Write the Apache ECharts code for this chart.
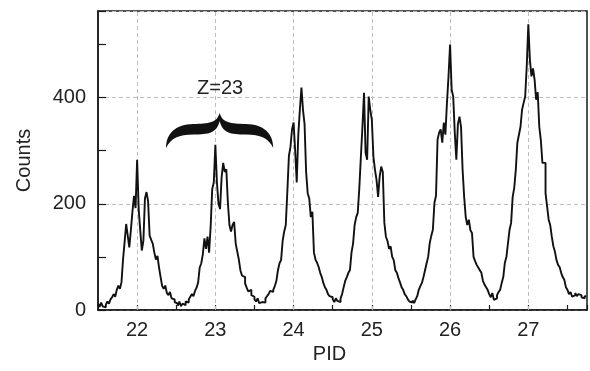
<!DOCTYPE html>
<html><head><meta charset="utf-8">
<script src="https://cdn.jsdelivr.net/npm/echarts@6/dist/echarts.min.js"></script>
<style>html,body{margin:0;padding:0;background:#fff}#c{width:590px;height:371px}</style>
</head><body><div id="c"></div>
<script>
// Histogram: bin edges start at binStart, each bin binWidth wide (PID units)
const binStart = 21.5;
const binWidth = 0.02;
const counts = [
  12, 6, 14, 7, 5,        10, 16, 12, 20, 24,      30, 25, 38, 46, 40,      52, 95, 128, 162, 140,
  118, 150, 185, 215, 192, 283, 190, 150, 112, 130, 210, 222, 205, 140, 132, 125, 108, 95, 102, 80,
  62, 45, 40, 46, 32,     28, 34, 22, 20, 15,      12, 8, 16, 7, 12,        9, 16, 14, 20, 25,
  30, 26, 36, 42, 52,     80, 88, 105, 135, 115,   138, 108, 158, 228, 240, 311, 240, 200, 190, 250,
  277, 260, 265, 202, 160, 148, 160, 166, 125, 110, 95, 75, 65, 62, 50,   42, 35, 38, 28, 25,
  20, 16, 22, 13, 15,     18, 14, 22, 26, 30,      36, 34, 38, 45, 55,      75, 88, 94, 130, 148,
  160, 223, 290, 307, 340, 353, 300, 240, 330, 377, 419, 377, 350, 260, 220, 210, 175, 185, 108, 95,
  89, 81, 70, 62, 51,     43, 38, 30, 26, 24,      20, 15, 22, 17, 15,      22, 30, 43, 55, 62,
  70, 75, 108, 125, 160,  175, 183, 230, 289, 345, 409, 296, 283, 402, 377, 358, 289, 264, 245, 213,
  251, 270, 260, 164, 138, 130, 115, 120, 100, 94, 75, 70, 60, 52, 43,    38, 30, 26, 20, 16,
  14, 18, 13, 20, 26,     38, 45, 51, 62, 75,      88, 100, 126, 140, 151,  202, 215, 321, 334, 340,
  315, 353, 330, 390, 440, 500, 415, 402, 334, 283, 350, 364, 345, 264, 213, 175, 160, 170, 150, 145,
  100, 92, 85, 80, 75,    70, 55, 48, 43, 38,      30, 24, 32, 19, 22,      28, 34, 38, 51, 62,
  89, 100, 126, 151, 164, 213, 230, 264, 315, 330, 345, 377, 390, 402, 460, 538, 472, 440, 455, 434,
  396, 410, 345, 320, 277, 277, 220, 195, 170, 160, 138, 120, 110, 94, 85, 81, 70, 62, 57, 43,
  38, 30, 34, 25, 28,     32, 26, 30, 28, 24,      22, 26
];
const xTickLabels = [22, 23, 24, 25, 26, 27];
const yTickLabels = [0, 200, 400];
const xTitle = 'PID';
const yTitle = 'Counts';
// annotation (data coordinates)
const annotationText = 'Z=23';
const annotationPos = [23.06, 418];
const braceSpan = [22.37, 23.74];
const braceCounts = [305, 371];

const FONT = "'Liberation Sans', Arial, Helvetica, sans-serif";
const near = (a, b) => Math.abs(a - b) < 1e-6;

const histData = counts.map((c, i) => [+(binStart + i * binWidth).toFixed(2), c]);
histData.push([+(binStart + counts.length * binWidth).toFixed(2), counts[counts.length - 1]]);

const BRACE = 'M0,35 C0,20 10,11.5 28,11 C44,10.5 52,10 55,0 C58,10 66,10.5 82,11 C100,11.5 110,20 110,35 ' +
              'C105,25 97,21.5 82,21.5 C66,21.5 58,20 55,8 C52,20 44,21.5 28,21.5 C13,21.5 5,25 0,35 Z';

const chart = echarts.init(document.getElementById('c'), null, {renderer: 'canvas'});
chart.setOption({
  animation: false,
  backgroundColor: '#ffffff',
  grid: {left: 98, top: 11, right: -10.5, bottom: 61, show: true,
         borderColor: '#1a1a1a', borderWidth: 1.5, backgroundColor: 'transparent'},
  xAxis: [{
    type: 'value', min: 21.5, max: 27.75, interval: 0.5,
    name: xTitle, nameLocation: 'middle', nameGap: 33,
    nameTextStyle: {fontFamily: FONT, fontSize: 20, color: '#222', padding: [0, 26, 0, 0]},
    axisLine: {show: true, onZero: false, lineStyle: {color: '#1a1a1a', width: 1.5}},
    axisTick: {show: true, inside: true, length: 5, lineStyle: {color: '#1a1a1a', width: 1.2}},
    axisLabel: {show: true, margin: 10, fontFamily: FONT, fontSize: 20, color: '#222',
      formatter: v => xTickLabels.some(t => near(t, v)) ? String(Math.round(v)) : ''},
    splitLine: {show: false}
  }],
  yAxis: [{
    type: 'value', min: 0, max: 563, interval: 100,
    name: yTitle, nameLocation: 'middle', nameGap: 64, nameRotate: 90,
    nameTextStyle: {fontFamily: FONT, fontSize: 20, color: '#222'},
    axisLine: {show: true, onZero: false, lineStyle: {color: '#1a1a1a', width: 1.5}},
    axisTick: {show: true, inside: true, length: 8, lineStyle: {color: '#1a1a1a', width: 1.2}},
    axisLabel: {show: true, margin: 12, fontFamily: FONT, fontSize: 20, color: '#222',
      formatter: v => yTickLabels.some(t => near(t, v)) ? String(Math.round(v)) : ''},
    splitLine: {show: false}
  }, {
    type: 'value', min: 0, max: 563, interval: 200, position: 'left',
    axisLine: {show: false}, axisTick: {show: false}, axisLabel: {show: false},
    splitLine: {show: true, lineStyle: {type: [4, 3], color: '#bdbdbd', width: 1}}
  }],
  series: [{
    type: 'line', step: 'end', data: histData, symbol: 'none', showSymbol: false,
    z: 10, clip: true,
    lineStyle: {color: '#111', width: 1.9},
    markLine: {
      silent: true, symbol: ['none', 'none'], label: {show: false},
      emphasis: {disabled: true}, animation: false,
      lineStyle: {type: [4, 3], color: '#bdbdbd', width: 1},
      data: xTickLabels.map(v => ({xAxis: v}))
    }
  }, {
    type: 'custom', z: 20, silent: true, clip: false,
    data: [[braceSpan[0], braceCounts[1], braceSpan[1], braceCounts[0], annotationPos[0], annotationPos[1]]],
    encode: {x: [0, 2], y: [1, 3]},
    renderItem: (params, api) => {
      const a = api.coord([api.value(0), api.value(1)]);
      const b = api.coord([api.value(2), api.value(3)]);
      const t = api.coord([api.value(4), api.value(5)]);
      return {
        type: 'group',
        children: [
          {type: 'path',
           shape: {pathData: BRACE, x: a[0], y: a[1], width: b[0] - a[0], height: b[1] - a[1], layout: 'cover'},
           style: {fill: '#111'}},
          {type: 'text', x: t[0], y: t[1],
           style: {text: annotationText, fontFamily: FONT, fontSize: 20, fill: '#222',
                   align: 'center', verticalAlign: 'middle'}}
        ]
      };
    }
  }]
});
</script>
</body></html>
